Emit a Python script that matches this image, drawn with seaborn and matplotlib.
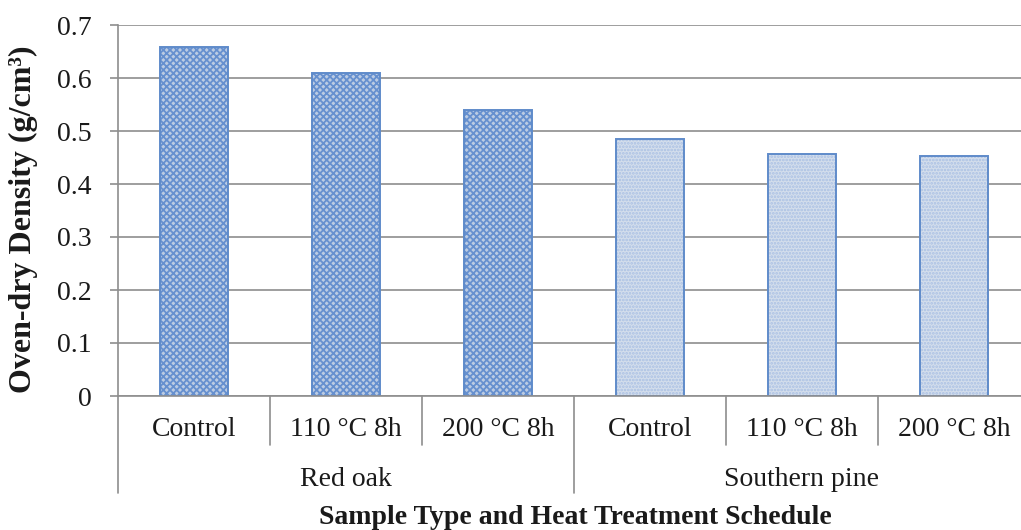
import numpy as np
import pandas as pd
import seaborn as sns
import matplotlib.pyplot as plt
from matplotlib import colors as mcolors, transforms

# ---- data ----
species = ["Red oak", "Red oak", "Red oak", "Southern pine", "Southern pine", "Southern pine"]
treatments = ["Control", "110 °C 8h", "200 °C 8h", "Control", "110 °C 8h", "200 °C 8h"]
density = [0.659, 0.610, 0.540, 0.485, 0.457, 0.452]
groups = ["Red oak", "Southern pine"]
yticks = [0.0, 0.1, 0.2, 0.3, 0.4, 0.5, 0.6, 0.7]
ytick_labels = ["0", "0.1", "0.2", "0.3", "0.4", "0.5", "0.6", "0.7"]

df = pd.DataFrame({"species": species, "treatment": treatments, "density": density})
df["key"] = df["species"] + " | " + df["treatment"]
order = list(df["key"])

sns.set_theme(style="white")
plt.rcParams['font.family'] = ['Liberation Serif', 'DejaVu Serif']
plt.rcParams['hatch.linewidth'] = 1.3

W, H = 1021, 530
fig = plt.figure(figsize=(W / 100, H / 100), dpi=100)
ax_left, ax_right, ax_top, ax_bottom = 118, 1030, 25, 396
ax = fig.add_axes([ax_left / W, (H - ax_bottom) / H, (ax_right - ax_left) / W, (ax_bottom - ax_top) / H])

edge = "#5f8bca"
face = {"Red oak": "#b5cbea", "Southern pine": "#d0ddf0"}
hatch_col = {"Red oak": "#6690cf", "Southern pine": "#a9c0e4"}
hatch = {"Red oak": "xxxxx", "Southern pine": "....."}

sns.barplot(data=df, x="key", y="density", hue="species", order=order,
            hue_order=groups, palette=face, dodge=False, width=0.45,
            edgecolor=edge, linewidth=1.4, legend=False, ax=ax)

for g, cont in zip(groups, ax.containers):
    for p in cont:
        p.set_hatch(hatch[g])
        p.set_edgecolor(edge)
        p._hatch_color = mcolors.to_rgba(hatch_col[g])

grid_col = "#8e8e8e"
text_col = "#1a1a1a"
ax.set_ylim(0, 0.7)
ax.set_xlim(-0.5, len(order) - 0.5)
ax.set_yticks(yticks)
ax.set_yticklabels(ytick_labels)
ax.yaxis.grid(True, color=grid_col, linewidth=1.2)
ax.set_axisbelow(True)
for s in ["top", "right"]:
    ax.spines[s].set_visible(False)
for s in ["left", "bottom"]:
    ax.spines[s].set_color(grid_col)
    ax.spines[s].set_linewidth(1.2)
ax.tick_params(axis="y", direction="out", length=6, width=1.2, color=grid_col,
               labelsize=20, pad=13, left=True)
ax.set_xticks(range(len(order)))
ax.set_xticklabels(treatments)
ax.tick_params(axis="x", length=0, labelsize=20, pad=15, bottom=False)

trans = transforms.blended_transform_factory(ax.transData, ax.transAxes)
inner_y = -(445 - ax_bottom) / (ax_bottom - ax_top)
outer_y = -(493 - ax_bottom) / (ax_bottom - ax_top)
group_y = -(480 - ax_bottom) / (ax_bottom - ax_top)

for xpos in [0.5, 1.5, 3.5, 4.5]:
    ax.plot([xpos, xpos], [0, inner_y], transform=trans, color=grid_col, lw=1.2, clip_on=False)
for xpos in [-0.5, 2.5, 5.5]:
    ax.plot([xpos, xpos], [0, outer_y], transform=trans, color=grid_col, lw=1.2, clip_on=False)

for i, g in enumerate(groups):
    ax.text(1 + 3 * i, group_y, g, transform=trans, ha="center", va="center",
            fontsize=20, color=text_col)

ax.set_xlabel("Sample Type and Heat Treatment Schedule", fontsize=20, fontweight="bold", color=text_col)
ax.xaxis.set_label_coords((575 - ax_left) / (ax_right - ax_left), -(518 - ax_bottom) / (ax_bottom - ax_top))
ax.xaxis.label.set_va("center")
ax.set_ylabel("Oven-dry Density (g/cm³)", fontsize=23, fontweight="bold", color=text_col)
ax.yaxis.set_label_coords((23 - ax_left) / (ax_right - ax_left), (ax_bottom - 219) / (ax_bottom - ax_top))
ax.yaxis.label.set_va("center")

for lbl in ax.get_xticklabels() + ax.get_yticklabels():
    lbl.set_color(text_col)

fig.savefig("out.png", dpi=100)
